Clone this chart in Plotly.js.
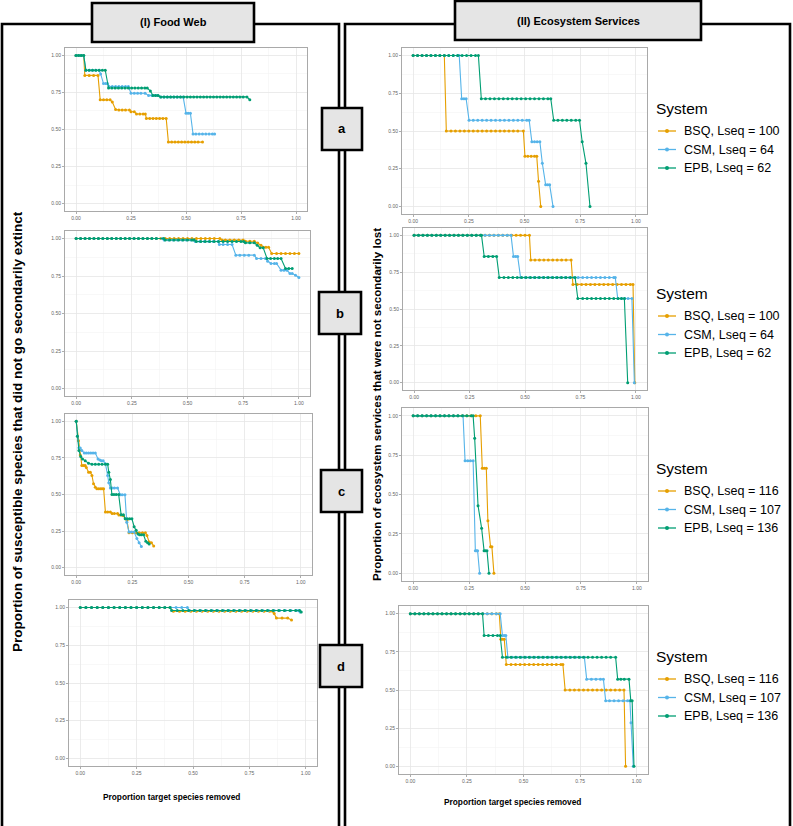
<!DOCTYPE html>
<html><head><meta charset="utf-8">
<script src="https://cdn.plot.ly/plotly-3.0.1.min.js"></script>
<style>html,body{margin:0;padding:0;background:#fff}#chart{width:793px;height:826px}</style>
</head><body><div id="chart"></div>
<script>
// ---------- DATA ----------
const systems = ['BSQ', 'CSM', 'EPB'];
const legendLabelsAB = ['BSQ, Lseq = 100', 'CSM, Lseq = 64', 'EPB, Lseq = 62'];
const legendLabelsCD = ['BSQ, Lseq = 116', 'CSM, Lseq = 107', 'EPB, Lseq = 136'];
const panelLetters = ['a', 'b', 'c', 'd'];
const tickVals = [0, 0.25, 0.5, 0.75, 1];
const tickText = ['0.00', '0.25', '0.50', '0.75', '1.00'];

// (I) Food web, panel a
const fwA_BSQ = [[0,1],[0.012,1],[0.024,1],[0.035,1],[0.04,0.865],[0.06,0.865],[0.08,0.865],[0.1,0.865],[0.11,0.7],[0.125,0.7],[0.14,0.7],[0.155,0.7],[0.165,0.685],[0.18,0.635],[0.195,0.632],[0.21,0.632],[0.225,0.632],[0.243,0.632],[0.25,0.62],[0.265,0.62],[0.275,0.605],[0.29,0.605],[0.305,0.605],[0.315,0.605],[0.32,0.575],[0.335,0.575],[0.35,0.575],[0.365,0.575],[0.38,0.575],[0.395,0.575],[0.41,0.575],[0.42,0.415],[0.435,0.415],[0.45,0.415],[0.465,0.415],[0.48,0.415],[0.495,0.415],[0.51,0.415],[0.525,0.415],[0.54,0.415],[0.555,0.415],[0.575,0.415]];
const fwA_CSM = [[0,1],[0.012,1],[0.024,1],[0.035,1],[0.045,0.9],[0.06,0.9],[0.075,0.9],[0.09,0.9],[0.105,0.9],[0.112,0.875],[0.125,0.81],[0.135,0.81],[0.143,0.81],[0.15,0.79],[0.165,0.79],[0.18,0.79],[0.195,0.79],[0.21,0.79],[0.225,0.79],[0.238,0.79],[0.25,0.745],[0.265,0.745],[0.28,0.745],[0.295,0.745],[0.314,0.745],[0.33,0.73],[0.345,0.73],[0.36,0.73],[0.372,0.73],[0.386,0.72],[0.4,0.72],[0.415,0.72],[0.43,0.72],[0.445,0.72],[0.46,0.72],[0.475,0.72],[0.487,0.72],[0.5,0.61],[0.51,0.61],[0.52,0.61],[0.532,0.47],[0.545,0.47],[0.56,0.47],[0.575,0.47],[0.59,0.47],[0.605,0.47],[0.62,0.47],[0.63,0.47]];
const fwA_EPB = [[0,1],[0.012,1],[0.024,1],[0.035,1],[0.045,0.9],[0.06,0.9],[0.075,0.9],[0.09,0.9],[0.105,0.9],[0.12,0.9],[0.133,0.9],[0.148,0.78],[0.163,0.78],[0.178,0.78],[0.193,0.78],[0.208,0.78],[0.223,0.78],[0.238,0.78],[0.253,0.78],[0.268,0.78],[0.283,0.78],[0.298,0.78],[0.313,0.78],[0.324,0.78],[0.338,0.76],[0.35,0.73],[0.362,0.73],[0.373,0.73],[0.385,0.72],[0.4,0.72],[0.415,0.72],[0.43,0.72],[0.445,0.72],[0.46,0.72],[0.475,0.72],[0.49,0.72],[0.505,0.72],[0.52,0.72],[0.535,0.72],[0.55,0.72],[0.565,0.72],[0.58,0.72],[0.595,0.72],[0.61,0.72],[0.625,0.72],[0.64,0.72],[0.655,0.72],[0.67,0.72],[0.685,0.72],[0.7,0.72],[0.715,0.72],[0.73,0.72],[0.745,0.72],[0.76,0.72],[0.777,0.72],[0.79,0.7]];

// (I) Food web, panel b
const fwB_BSQ = [[0,1],[0.02,1],[0.04,1],[0.06,1],[0.08,1],[0.1,1],[0.12,1],[0.14,1],[0.16,1],[0.18,1],[0.2,1],[0.22,1],[0.24,1],[0.26,1],[0.28,1],[0.3,1],[0.32,1],[0.34,1],[0.36,1],[0.38,1],[0.4,1],[0.42,1],[0.44,1],[0.46,1],[0.48,1],[0.5,1],[0.52,1],[0.54,1],[0.56,1],[0.58,1],[0.6,1],[0.62,1],[0.645,1],[0.655,0.99],[0.67,0.99],[0.69,0.99],[0.71,0.99],[0.73,0.99],[0.75,0.99],[0.76,0.982],[0.78,0.982],[0.8,0.982],[0.815,0.97],[0.83,0.955],[0.84,0.942],[0.852,0.942],[0.864,0.942],[0.878,0.9],[0.9,0.9],[0.92,0.9],[0.94,0.9],[0.96,0.9],[0.98,0.9],[1,0.9]];
const fwB_CSM = [[0,1],[0.02,1],[0.04,1],[0.06,1],[0.08,1],[0.1,1],[0.12,1],[0.14,1],[0.16,1],[0.18,1],[0.2,1],[0.22,1],[0.24,1],[0.26,1],[0.28,1],[0.3,1],[0.32,1],[0.34,1],[0.36,1],[0.386,1],[0.395,0.99],[0.415,0.99],[0.435,0.99],[0.455,0.99],[0.475,0.99],[0.495,0.99],[0.515,0.99],[0.527,0.99],[0.535,0.98],[0.555,0.98],[0.575,0.98],[0.595,0.98],[0.615,0.98],[0.637,0.98],[0.643,0.96],[0.66,0.96],[0.68,0.96],[0.7,0.96],[0.717,0.889],[0.735,0.889],[0.755,0.889],[0.775,0.889],[0.8,0.889],[0.81,0.867],[0.83,0.867],[0.85,0.867],[0.86,0.849],[0.875,0.833],[0.89,0.833],[0.9,0.833],[0.92,0.789],[0.933,0.789],[0.946,0.789],[0.96,0.767],[0.97,0.767],[0.985,0.755],[1,0.74]];
const fwB_EPB = [[0,1],[0.02,1],[0.04,1],[0.06,1],[0.08,1],[0.1,1],[0.12,1],[0.14,1],[0.16,1],[0.18,1],[0.2,1],[0.22,1],[0.24,1],[0.26,1],[0.28,1],[0.3,1],[0.32,1],[0.34,1],[0.36,1],[0.393,1],[0.4,0.99],[0.42,0.99],[0.44,0.99],[0.46,0.99],[0.48,0.99],[0.5,0.99],[0.52,0.99],[0.53,0.99],[0.54,0.98],[0.56,0.98],[0.58,0.98],[0.6,0.98],[0.62,0.98],[0.64,0.98],[0.66,0.98],[0.68,0.98],[0.7,0.98],[0.72,0.98],[0.74,0.98],[0.752,0.98],[0.76,0.971],[0.78,0.971],[0.8,0.971],[0.813,0.955],[0.826,0.938],[0.84,0.938],[0.857,0.867],[0.873,0.867],[0.89,0.867],[0.905,0.867],[0.92,0.867],[0.94,0.8],[0.955,0.8],[0.97,0.8]];

// (I) Food web, panel c
const fwC_BSQ = [[0,1],[0.01,0.868],[0.018,0.77],[0.025,0.698],[0.033,0.698],[0.04,0.698],[0.045,0.685],[0.055,0.652],[0.063,0.652],[0.07,0.63],[0.077,0.573],[0.085,0.55],[0.092,0.539],[0.1,0.539],[0.108,0.539],[0.115,0.539],[0.122,0.539],[0.13,0.38],[0.14,0.38],[0.152,0.38],[0.16,0.37],[0.17,0.37],[0.184,0.37],[0.19,0.36],[0.2,0.36],[0.21,0.355],[0.226,0.323],[0.235,0.239],[0.25,0.239],[0.265,0.239],[0.28,0.239],[0.295,0.239],[0.308,0.239],[0.315,0.22],[0.325,0.175],[0.335,0.17],[0.345,0.148]];
const fwC_CSM = [[0,1],[0.005,0.9],[0.012,0.82],[0.018,0.818],[0.025,0.8],[0.036,0.784],[0.045,0.784],[0.055,0.784],[0.065,0.784],[0.075,0.784],[0.085,0.784],[0.097,0.743],[0.105,0.735],[0.112,0.73],[0.12,0.73],[0.13,0.71],[0.14,0.63],[0.145,0.58],[0.152,0.545],[0.16,0.545],[0.17,0.545],[0.184,0.545],[0.196,0.498],[0.205,0.498],[0.217,0.498],[0.225,0.311],[0.235,0.243],[0.245,0.243],[0.258,0.243],[0.27,0.2],[0.28,0.17],[0.29,0.145]];
const fwC_EPB = [[0,1],[0.005,0.898],[0.012,0.8],[0.02,0.76],[0.028,0.743],[0.04,0.73],[0.055,0.714],[0.07,0.707],[0.085,0.707],[0.1,0.707],[0.115,0.707],[0.13,0.707],[0.14,0.707],[0.145,0.652],[0.152,0.602],[0.159,0.5],[0.168,0.5],[0.178,0.5],[0.189,0.5],[0.2,0.361],[0.21,0.361],[0.218,0.334],[0.228,0.334],[0.238,0.334],[0.248,0.334],[0.258,0.28],[0.267,0.255],[0.275,0.23],[0.282,0.225],[0.29,0.225],[0.3,0.225],[0.31,0.18],[0.318,0.17],[0.325,0.161]];

// (I) Food web, panel d
const fwD_BSQ = [[0,1],[0.025,1],[0.05,1],[0.075,1],[0.1,1],[0.125,1],[0.15,1],[0.175,1],[0.2,1],[0.225,1],[0.25,1],[0.275,1],[0.3,1],[0.325,1],[0.35,1],[0.375,1],[0.398,1],[0.413,0.976],[0.44,0.976],[0.465,0.976],[0.49,0.976],[0.515,0.976],[0.54,0.976],[0.565,0.976],[0.59,0.976],[0.615,0.976],[0.64,0.976],[0.665,0.976],[0.69,0.976],[0.715,0.976],[0.74,0.976],[0.765,0.976],[0.79,0.976],[0.815,0.976],[0.84,0.976],[0.853,0.976],[0.86,0.96],[0.87,0.93],[0.895,0.93],[0.92,0.93],[0.937,0.918]];
const fwD_CSM = [[0,1],[0.025,1],[0.05,1],[0.075,1],[0.1,1],[0.125,1],[0.15,1],[0.175,1],[0.2,1],[0.225,1],[0.25,1],[0.275,1],[0.3,1],[0.325,1],[0.35,1],[0.375,1],[0.4,1],[0.425,1],[0.45,1],[0.475,1],[0.485,0.98],[0.51,0.98],[0.535,0.98],[0.56,0.98],[0.585,0.98],[0.61,0.98],[0.635,0.98],[0.66,0.98],[0.685,0.98],[0.71,0.98],[0.735,0.98],[0.76,0.98],[0.785,0.98],[0.81,0.98],[0.835,0.98],[0.86,0.98],[0.885,0.98],[0.91,0.98],[0.935,0.98],[0.96,0.98],[0.97,0.98],[0.975,0.97]];
const fwD_EPB = [[0,1],[0.025,1],[0.05,1],[0.075,1],[0.1,1],[0.125,1],[0.15,1],[0.175,1],[0.2,1],[0.225,1],[0.25,1],[0.275,1],[0.3,1],[0.325,1],[0.35,1],[0.375,1],[0.398,1],[0.405,0.98],[0.43,0.98],[0.455,0.98],[0.48,0.98],[0.505,0.98],[0.53,0.98],[0.555,0.98],[0.58,0.98],[0.605,0.98],[0.63,0.98],[0.655,0.98],[0.68,0.98],[0.705,0.98],[0.73,0.98],[0.755,0.98],[0.78,0.98],[0.805,0.98],[0.83,0.98],[0.855,0.98],[0.88,0.98],[0.905,0.98],[0.93,0.98],[0.955,0.98],[0.973,0.98],[0.98,0.97]];

// (II) Ecosystem services, panel a
const esA_BSQ = [[0,1],[0.02,1],[0.04,1],[0.06,1],[0.08,1],[0.1,1],[0.12,1],[0.14,1],[0.149,0.5],[0.17,0.5],[0.19,0.5],[0.21,0.5],[0.23,0.5],[0.25,0.5],[0.27,0.5],[0.29,0.5],[0.31,0.5],[0.33,0.5],[0.35,0.5],[0.37,0.5],[0.39,0.5],[0.41,0.5],[0.43,0.5],[0.45,0.5],[0.47,0.5],[0.495,0.5],[0.502,0.333],[0.515,0.333],[0.53,0.333],[0.545,0.333],[0.555,0.333],[0.563,0.167],[0.573,0]];
const esA_CSM = [[0,1],[0.02,1],[0.04,1],[0.06,1],[0.08,1],[0.1,1],[0.12,1],[0.14,1],[0.16,1],[0.18,1],[0.2,1],[0.207,1],[0.218,0.714],[0.228,0.714],[0.238,0.714],[0.251,0.571],[0.27,0.571],[0.29,0.571],[0.31,0.571],[0.33,0.571],[0.35,0.571],[0.37,0.571],[0.39,0.571],[0.41,0.571],[0.43,0.571],[0.45,0.571],[0.47,0.571],[0.49,0.571],[0.51,0.571],[0.521,0.571],[0.533,0.429],[0.545,0.429],[0.557,0.429],[0.569,0.429],[0.58,0.286],[0.595,0.143],[0.604,0.143],[0.613,0.143],[0.628,0]];
const esA_EPB = [[0,1],[0.02,1],[0.04,1],[0.06,1],[0.08,1],[0.1,1],[0.12,1],[0.14,1],[0.16,1],[0.18,1],[0.2,1],[0.22,1],[0.24,1],[0.26,1],[0.28,1],[0.293,1],[0.306,0.714],[0.325,0.714],[0.345,0.714],[0.365,0.714],[0.385,0.714],[0.405,0.714],[0.425,0.714],[0.445,0.714],[0.465,0.714],[0.485,0.714],[0.505,0.714],[0.525,0.714],[0.545,0.714],[0.565,0.714],[0.585,0.714],[0.605,0.714],[0.618,0.714],[0.631,0.571],[0.65,0.571],[0.67,0.571],[0.69,0.571],[0.71,0.571],[0.73,0.571],[0.747,0.571],[0.759,0.429],[0.776,0.286],[0.794,0]];

// (II) Ecosystem services, panel b
const esB_BSQ = [[0,1],[0.02,1],[0.04,1],[0.06,1],[0.08,1],[0.1,1],[0.12,1],[0.14,1],[0.16,1],[0.18,1],[0.2,1],[0.22,1],[0.24,1],[0.26,1],[0.28,1],[0.3,1],[0.32,1],[0.34,1],[0.36,1],[0.38,1],[0.4,1],[0.42,1],[0.44,1],[0.46,1],[0.48,1],[0.5,1],[0.52,1],[0.526,0.833],[0.545,0.833],[0.565,0.833],[0.585,0.833],[0.605,0.833],[0.625,0.833],[0.645,0.833],[0.665,0.833],[0.685,0.833],[0.708,0.833],[0.716,0.667],[0.735,0.667],[0.755,0.667],[0.775,0.667],[0.795,0.667],[0.815,0.667],[0.835,0.667],[0.855,0.667],[0.875,0.667],[0.895,0.667],[0.915,0.667],[0.935,0.667],[0.955,0.667],[0.975,0.667],[0.987,0.667],[0.995,0]];
const esB_CSM = [[0,1],[0.02,1],[0.04,1],[0.06,1],[0.08,1],[0.1,1],[0.12,1],[0.14,1],[0.16,1],[0.18,1],[0.2,1],[0.22,1],[0.24,1],[0.26,1],[0.28,1],[0.3,1],[0.32,1],[0.34,1],[0.36,1],[0.38,1],[0.4,1],[0.42,1],[0.437,1],[0.448,0.857],[0.458,0.857],[0.467,0.857],[0.48,0.714],[0.5,0.714],[0.52,0.714],[0.54,0.714],[0.56,0.714],[0.58,0.714],[0.6,0.714],[0.62,0.714],[0.64,0.714],[0.66,0.714],[0.68,0.714],[0.7,0.714],[0.72,0.714],[0.74,0.714],[0.76,0.714],[0.78,0.714],[0.8,0.714],[0.82,0.714],[0.84,0.714],[0.86,0.714],[0.88,0.714],[0.9,0.714],[0.907,0.714],[0.918,0.571],[0.935,0.571],[0.95,0.571],[0.965,0.571],[0.982,0.571],[0.993,0]];
const esB_EPB = [[0,1],[0.02,1],[0.04,1],[0.06,1],[0.08,1],[0.1,1],[0.12,1],[0.14,1],[0.16,1],[0.18,1],[0.2,1],[0.22,1],[0.24,1],[0.26,1],[0.28,1],[0.3,1],[0.304,1],[0.316,0.857],[0.335,0.857],[0.355,0.857],[0.372,0.857],[0.384,0.714],[0.405,0.714],[0.425,0.714],[0.445,0.714],[0.465,0.714],[0.485,0.714],[0.505,0.714],[0.525,0.714],[0.545,0.714],[0.565,0.714],[0.585,0.714],[0.605,0.714],[0.625,0.714],[0.645,0.714],[0.665,0.714],[0.685,0.714],[0.705,0.714],[0.726,0.714],[0.738,0.571],[0.76,0.571],[0.78,0.571],[0.8,0.571],[0.82,0.571],[0.84,0.571],[0.86,0.571],[0.88,0.571],[0.9,0.571],[0.92,0.571],[0.935,0.571],[0.948,0.571],[0.963,0]];

// (II) Ecosystem services, panel c
const esC_BSQ = [[0,1],[0.02,1],[0.04,1],[0.06,1],[0.08,1],[0.1,1],[0.12,1],[0.14,1],[0.16,1],[0.18,1],[0.2,1],[0.22,1],[0.24,1],[0.26,1],[0.28,1],[0.3,1],[0.309,0.667],[0.318,0.667],[0.327,0.667],[0.334,0.333],[0.346,0.167],[0.352,0.167],[0.361,0]];
const esC_CSM = [[0,1],[0.02,1],[0.04,1],[0.06,1],[0.08,1],[0.1,1],[0.12,1],[0.14,1],[0.16,1],[0.18,1],[0.2,1],[0.223,1],[0.232,0.714],[0.244,0.714],[0.256,0.714],[0.268,0.714],[0.278,0.143],[0.283,0.143],[0.288,0.143],[0.297,0]];
const esC_EPB = [[0,1],[0.02,1],[0.04,1],[0.06,1],[0.08,1],[0.1,1],[0.12,1],[0.14,1],[0.16,1],[0.18,1],[0.2,1],[0.22,1],[0.24,1],[0.26,1],[0.268,1],[0.275,0.857],[0.29,0.429],[0.306,0.286],[0.317,0.143],[0.323,0.143],[0.33,0.143],[0.339,0]];

// (II) Ecosystem services, panel d
const esD_BSQ = [[0,1],[0.02,1],[0.04,1],[0.06,1],[0.08,1],[0.1,1],[0.12,1],[0.14,1],[0.16,1],[0.18,1],[0.2,1],[0.22,1],[0.24,1],[0.26,1],[0.28,1],[0.3,1],[0.32,1],[0.34,1],[0.36,1],[0.38,1],[0.393,1],[0.4,0.833],[0.407,0.833],[0.415,0.833],[0.424,0.667],[0.445,0.667],[0.465,0.667],[0.485,0.667],[0.505,0.667],[0.525,0.667],[0.545,0.667],[0.565,0.667],[0.585,0.667],[0.605,0.667],[0.625,0.667],[0.645,0.667],[0.665,0.667],[0.674,0.667],[0.684,0.5],[0.705,0.5],[0.725,0.5],[0.745,0.5],[0.765,0.5],[0.785,0.5],[0.805,0.5],[0.825,0.5],[0.845,0.5],[0.865,0.5],[0.885,0.5],[0.905,0.5],[0.925,0.5],[0.944,0.5],[0.951,0]];
const esD_CSM = [[0,1],[0.02,1],[0.04,1],[0.06,1],[0.08,1],[0.1,1],[0.12,1],[0.14,1],[0.16,1],[0.18,1],[0.2,1],[0.22,1],[0.24,1],[0.26,1],[0.28,1],[0.3,1],[0.32,1],[0.34,1],[0.36,1],[0.38,1],[0.397,1],[0.407,0.857],[0.415,0.857],[0.422,0.857],[0.431,0.714],[0.45,0.714],[0.47,0.714],[0.49,0.714],[0.51,0.714],[0.53,0.714],[0.55,0.714],[0.57,0.714],[0.59,0.714],[0.61,0.714],[0.63,0.714],[0.65,0.714],[0.67,0.714],[0.69,0.714],[0.71,0.714],[0.73,0.714],[0.75,0.714],[0.769,0.714],[0.779,0.571],[0.8,0.571],[0.82,0.571],[0.84,0.571],[0.853,0.571],[0.863,0.429],[0.88,0.429],[0.9,0.429],[0.92,0.429],[0.94,0.429],[0.96,0.429],[0.97,0.429],[0.975,0.286],[0.985,0]];
const esD_EPB = [[0,1],[0.02,1],[0.04,1],[0.06,1],[0.08,1],[0.1,1],[0.12,1],[0.14,1],[0.16,1],[0.18,1],[0.2,1],[0.22,1],[0.24,1],[0.26,1],[0.28,1],[0.3,1],[0.319,1],[0.326,0.857],[0.345,0.857],[0.365,0.857],[0.385,0.857],[0.397,0.857],[0.407,0.714],[0.425,0.714],[0.445,0.714],[0.465,0.714],[0.485,0.714],[0.505,0.714],[0.525,0.714],[0.545,0.714],[0.565,0.714],[0.585,0.714],[0.605,0.714],[0.625,0.714],[0.645,0.714],[0.665,0.714],[0.685,0.714],[0.705,0.714],[0.725,0.714],[0.745,0.714],[0.765,0.714],[0.785,0.714],[0.805,0.714],[0.825,0.714],[0.845,0.714],[0.865,0.714],[0.885,0.714],[0.907,0.714],[0.916,0.571],[0.93,0.571],[0.945,0.571],[0.966,0.571],[0.974,0.429],[0.98,0.429],[0.988,0]];

// ---------- STYLE / LAYOUT ----------
const W = 793, H = 826;
const colors = {BSQ: '#E69F00', CSM: '#56B4E9', EPB: '#009E73'};
const FONT = 'Liberation Sans, Arial, sans-serif';
const fx = p => p / W;
const fy = p => 1 - p / H;

const panels = [
  {x0: 65, x1: 307, y0: 48, y1: 211},
  {x0: 65, x1: 310, y0: 231, y1: 396},
  {x0: 65, x1: 312, y0: 414, y1: 575},
  {x0: 69, x1: 317, y0: 600, y1: 766},
  {x0: 402, x1: 647, y0: 48, y1: 214},
  {x0: 403, x1: 647, y0: 228, y1: 390},
  {x0: 402, x1: 648, y0: 408, y1: 581},
  {x0: 399, x1: 648, y0: 606, y1: 774}
];
const panelData = [
  [fwA_BSQ, fwA_CSM, fwA_EPB], [fwB_BSQ, fwB_CSM, fwB_EPB],
  [fwC_BSQ, fwC_CSM, fwC_EPB], [fwD_BSQ, fwD_CSM, fwD_EPB],
  [esA_BSQ, esA_CSM, esA_EPB], [esB_BSQ, esB_CSM, esB_EPB],
  [esC_BSQ, esC_CSM, esC_EPB], [esD_BSQ, esD_CSM, esD_EPB]
];

const traces = [];
const layout = {
  width: W, height: H, margin: {l: 0, r: 0, t: 0, b: 0},
  paper_bgcolor: '#ffffff', plot_bgcolor: '#ffffff',
  showlegend: false, font: {family: FONT},
  shapes: [], annotations: []
};

panels.forEach((p, i) => {
  const n = i === 0 ? '' : String(i + 1);
  const axBase = {
    range: [-0.05, 1.05], tickvals: tickVals, ticktext: tickText,
    showgrid: true, gridcolor: '#e6e6e6', gridwidth: 0.8,
    minor: {tickvals: [0.125, 0.375, 0.625, 0.875], showgrid: true, gridcolor: '#f3f3f3', gridwidth: 0.6, ticks: ''},
    zeroline: false, showline: true, mirror: true, linecolor: '#a9a9a9', linewidth: 1,
    ticks: 'outside', ticklen: 2, tickwidth: 0.6, tickcolor: '#777',
    tickfont: {size: 5, color: '#666', family: FONT}, fixedrange: true
  };
  layout['xaxis' + n] = Object.assign({}, axBase, {domain: [fx(p.x0), fx(p.x1)], anchor: 'y' + n});
  layout['yaxis' + n] = Object.assign({}, axBase, {domain: [fy(p.y1), fy(p.y0)], anchor: 'x' + n});
  panelData[i].forEach((series, s) => {
    const sys = systems[s];
    traces.push({
      x: series.map(d => d[0]), y: series.map(d => d[1]),
      xaxis: 'x' + n, yaxis: 'y' + n, type: 'scatter', mode: 'lines+markers',
      line: {color: colors[sys], width: 1.1}, marker: {color: colors[sys], size: 3},
      hoverinfo: 'skip', showlegend: false, cliponaxis: false
    });
  });
});

const S = layout.shapes, A = layout.annotations;
const rect = (x0, y0, x1, y1, fill) => S.push({type: 'rect', xref: 'paper', yref: 'paper',
  x0: fx(x0), x1: fx(x1), y0: fy(y1), y1: fy(y0), line: {color: '#000', width: 2.6},
  fillcolor: fill || 'rgba(0,0,0,0)', layer: 'above'});
const note = (x, y, text, size, opts) => A.push(Object.assign({xref: 'paper', yref: 'paper',
  x: fx(x), y: fy(y), text: text, showarrow: false, xanchor: 'center', yanchor: 'middle',
  font: {size: size, family: FONT, color: '#000'}}, opts || {}));
const BOLD = s => ({size: s, family: FONT, color: '#000', weight: 'bold'});

// outer frames
rect(2, 24, 339, 840);
rect(345, 24, 790, 840);
// header boxes
rect(92, 3, 254, 42, '#e5e5e5');
rect(455, 1, 701, 40, '#e5e5e5');
note(173, 22, '(I) Food Web', 11, {font: BOLD(11)});
note(578, 21, '(II) Ecosystem Services', 11, {font: BOLD(11)});

// letter boxes
const letterBoxes = [[322, 108, 362, 150], [319, 292, 361, 334], [321, 470, 362, 512], [320, 645, 362, 687]];
letterBoxes.forEach((b, k) => {
  rect(b[0], b[1], b[2], b[3], '#e5e5e5');
  note((b[0] + b[2]) / 2, (b[1] + b[3]) / 2, panelLetters[k], 13, {font: BOLD(13)});
});

// axis titles
note(17, 432, 'Proportion of susceptible species that did not go secondarily extinct', 13.5,
  {textangle: -90, font: BOLD(13.5)});
note(376, 405, 'Proportion of ecosystem services that were not secondarily lost', 12,
  {textangle: -90, font: BOLD(11.6)});
note(171, 797, 'Proportion target species removed', 8.3, {font: BOLD(8.3)});
note(512, 802, 'Proportion target species removed', 8.3, {font: BOLD(8.3)});

// legends
const legendTops = [108, 293, 468, 656];
legendTops.forEach((ty, k) => {
  const labels = k < 2 ? legendLabelsAB : legendLabelsCD;
  note(654, ty, 'System', 15.5, {xanchor: 'left'});
  labels.forEach((lab, s) => {
    const yy = ty + 23 + s * 18.5;
    const c = colors[systems[s]];
    S.push({type: 'line', xref: 'paper', yref: 'paper', x0: fx(658), x1: fx(676), y0: fy(yy), y1: fy(yy),
      line: {color: c, width: 1.3}, layer: 'above'});
    S.push({type: 'circle', xref: 'paper', yref: 'paper', x0: fx(665), x1: fx(669), y0: fy(yy + 2), y1: fy(yy - 2),
      line: {color: c, width: 0}, fillcolor: c, layer: 'above'});
    note(682, yy, lab, 12.5, {xanchor: 'left'});
  });
});

Plotly.newPlot('chart', traces, layout, {staticPlot: true, displayModeBar: false});
</script>
</body></html>
